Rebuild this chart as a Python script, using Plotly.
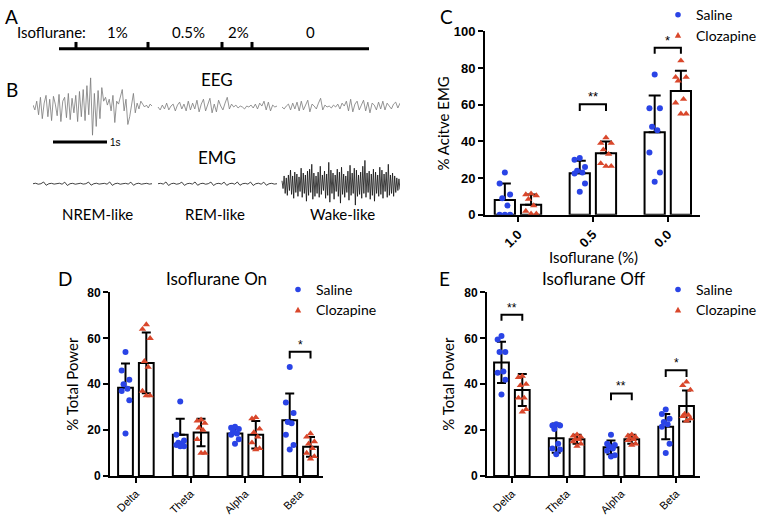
import plotly.graph_objects as go

W, H = 757, 517
def px(x): return x / W
def py(y): return 1 - y / H

# ---------------- data ----------------
groups_c = ["1.0", "0.5", "0.0"]
c_sal_mean = [8.0, 22.7, 45.0]
c_sal_sd = [9.0, 6.8, 20.0]
c_cloz_mean = [5.5, 33.5, 67.5]
c_cloz_sd = [5.5, 6.5, 11.0]
c_sal_pts = [[23, 17, 11, 9, 5, 0, 0, 0],
             [31, 30, 26, 24, 23, 22.5, 17, 12.5],
             [76.5, 58, 58, 48, 46, 34, 23, 18]]
c_cloz_pts = [[11.5, 11, 10.5, 8.5, 5, 2, 0.5, 0.5],
              [42, 39, 39, 35.5, 33, 28, 26.5, 26.5],
              [84, 75, 75, 73, 63, 61, 55, 55]]
c_sig = [(1, 60.3, 56.6, "**"), (2, 91.0, 87.8, "*")]
c_yticks = [0, 20, 40, 60, 80, 100]

bands = ["Delta", "Theta", "Alpha", "Beta"]
de_yticks = [0, 20, 40, 60, 80]
d_sal_mean = [38.5, 18.0, 18.5, 24.3]
d_sal_sd = [10.5, 7.0, 2.5, 11.7]
d_cloz_mean = [49.3, 19.0, 18.0, 12.7]
d_cloz_sd = [13.2, 6.0, 6.0, 4.3]
d_sal_pts = [[54, 46, 42, 40, 38, 37, 33, 18.5],
             [32.5, 18, 15.5, 14.5, 14, 13.5, 13, 13],
             [21.5, 21, 20.5, 19.5, 18.5, 18, 16, 14],
             [47.5, 32, 27.5, 23.5, 23, 18, 13.5, 11.5]]
d_cloz_pts = [[66, 64, 60, 50, 47.5, 37, 35, 35],
              [24.5, 24, 23, 21, 20, 16, 10, 10],
              [25.5, 25, 20.5, 19, 17, 14.5, 12, 11.5],
              [18.5, 17, 15, 14, 12, 10, 8.5, 7.5]]
d_sig = [(3, 54.2, 51.2, "*")]

e_sal_mean = [49.5, 16.5, 12.5, 21.5]
e_sal_sd = [9.0, 6.4, 3.0, 5.5]
e_cloz_mean = [37.5, 16.0, 16.0, 30.5]
e_cloz_sd = [7.0, 2.0, 2.0, 6.8]
e_sal_pts = [[61, 59.5, 54, 54, 45.5, 45, 42, 35.5],
             [22.5, 22, 22, 20.5, 14, 12, 11.5, 9.5],
             [18, 14, 13.5, 13, 12, 11, 9, 8.5],
             [29, 27, 25, 23.5, 22.5, 21.5, 14, 10]]
e_cloz_pts = [[43.5, 43, 40, 39.5, 34, 34, 29, 28],
              [18, 17.5, 17, 16, 16, 15, 14, 13],
              [18, 17.5, 17, 16.5, 16, 15.5, 14, 13.5],
              [41, 39.5, 37.5, 27, 26.5, 26, 25, 24]]
e_sig = [(0, 70.3, 67.7, "**"), (2, 36.0, 33.0, "**"), (3, 46.1, 43.2, "*")]

timeline_labels = ["1%", "0.5%", "2%", "0"]
stage_labels = ["NREM-like", "REM-like", "Wake-like"]

eeg_nrem = [2, -3, 6, -8, 10, -12, 4, 12, -10, 8, -14, 11, 3, -9, 13, -15, 6, 10, -11, 14,
            -13, 9, -6, 12, -15, 16, -10, 18, -14, 22, -8, 30, -29, 14, -20, 17, -12, 20, 6, 10,
            2, 8, -4, 12, -16, 6, 3, 10, 18, -4, 8, -18, -10, 2, 14, -6, 4, -2, 6, 3,
            0, 2, -1, 3, 1]
eeg_rem = [0, -3, 2, -2, 4, -3, 1, 3, -4, 2, 5, -2, 3, -4, 6, -3, 4, -2, 7, -5,
           3, 8, -4, 2, 9, -6, 3, -5, 7, 1, -3, 4, 10, -2, 3, 0, 2, -1, 1, 0,
           -2, 1, 0, 2, -1, 3, -2, 4, 1, 6, -3, 5, -4, 2, 0, 1]
eeg_wake = [0, -2, 1, 3, -3, 4, -2, 5, -4, 6, -3, 2, 7, -5, 3, 1, -2, 4, 9, -3,
            2, 0, 1, -1, 2, 0, 3, -2, 4, 1, 6, -4, 8, -5, 3, 6, -3, 2, 7, -4,
            5, -6, 4, 2, -3, 5, -2, 6, -3, 4, 1, -2, 3, 5, -1, 4]
emg_nrem = [0, 0.5, -0.5, 0, 1.8, -1.6, 0, 0.4, -0.4, 0, 0.5, -0.5, 1.6, -1.8, 0, 0.4, -0.5, 0, 0.5, -0.4,
            0, 1.7, -1.5, 0, 0.5, -0.4, 0, 0.4, -0.5, 1.8, -1.7, 0, 0.5, -0.5, 0, 0.4, -0.4, 1.6, -1.6, 0,
            0.5, -0.5, 0, 0.4, -0.4, 0]
emg_rem = [0, 0.4, -0.4, 1.8, -1.8, 0, 0.5, -0.5, 0, 1.6, -1.7, 0, 0.4, -0.4, 1.8, -1.6, 0, 0.5, -0.5, 0,
           1.7, -1.8, 0, 0.4, -0.4, 1.6, -1.7, 0, 0.5, -0.5, 1.8, -1.6, 0, 0.4, -0.4, 1.7, -1.8, 0, 0.5, -0.5,
           1.6, -1.6, 0, 0.4, -0.4, 0]
emg_wake = [3, -5, 8, -10, 6, -12, 9, -7, 14, -11, 8, -15, 12, -9, 10, -13, 7, -8, 16, -14,
            11, -10, 9, -18, 13, -12, 15, -9, 20, -16, 11, -13, 8, -10, 12, -14, 18, -11, 9, -7,
            13, -15, 10, -12, 22, -19, 14, -10, 11, -16, 9, -8, 15, -13, 12, -20, 17, -11, 10, -14,
            8, -9, 13, -17, 19, -12, 11, -10, 16, -22, 14, -13, 9, -11, 12, -15, 18, -10, 24, -14,
            11, -9, 13, -16, 10, -12, 15, -18, 12, -10, 9, -13, 17, -11, 14, -15, 10, -8, 12, -14,
            20, -12, 9, -10, 11, -13, 8, -9, 6, -7, 5, -6]

# ---------------- style ----------------
BLUE = "#2a44e6"
RED = "#d9472b"
TXT = "Lato"
NUM = "Liberation Sans"
JIT = [0.0, -0.07, 0.07, -0.035, 0.035, -0.07, 0.07, 0.0]

fig = go.Figure()
annotations = []
shapes = []

def text(x, y, s, size, xanchor="center", yanchor="middle", family=TXT, angle=0, color="black"):
    annotations.append(dict(x=px(x), y=py(y), xref="paper", yref="paper", text=s,
                            showarrow=False, xanchor=xanchor, yanchor=yanchor,
                            textangle=angle, font=dict(family=family, size=size, color=color)))

def bar_panel(ax, means_s, sd_s, pts_s, means_c, sd_c, pts_c, sig, off, bw, capw,
              sal_minus, cloz_minus, star_size):
    xa = "x" if ax == 1 else f"x{ax}"
    ya = "y" if ax == 1 else f"y{ax}"
    n = len(means_s)
    for means, sds, pts, o, minus, color, sym in [
        (means_s, sd_s, pts_s, -off, sal_minus, BLUE, "circle"),
        (means_c, sd_c, pts_c, off, cloz_minus, RED, "triangle-up")]:
        fig.add_trace(go.Bar(
            x=[i + o for i in range(n)], y=means, width=bw,
            marker=dict(color="white", line=dict(color="black", width=2)),
            error_y=dict(type="data", array=sds,
                         arrayminus=(sds if minus else [0] * n), symmetric=False,
                         color="black", thickness=2, width=capw),
            xaxis=xa, yaxis=ya, showlegend=False, hoverinfo="skip"))
        xs, ys = [], []
        for i, grp in enumerate(pts):
            for k, v in enumerate(grp):
                xs.append(i + o + JIT[k % len(JIT)])
                ys.append(v)
        fig.add_trace(go.Scatter(
            x=xs, y=ys, mode="markers",
            marker=dict(symbol=sym, size=6 if sym == "circle" else 6.5, color=color,
                        line=dict(width=0)),
            xaxis=xa, yaxis=ya, showlegend=False, hoverinfo="skip"))
    for g, top, leg, lab in sig:
        x0, x1 = g - off, g + off
        shapes.append(dict(type="path", xref=xa, yref=ya,
                           path=f"M {x0},{leg} L {x0},{top} L {x1},{top} L {x1},{leg}",
                           line=dict(color="black", width=2)))
        annotations.append(dict(x=g, y=top, xref=xa, yref=ya, text=lab, showarrow=False,
                                yanchor="bottom", yshift=-2,
                                font=dict(family=NUM, size=star_size, color="black")))

bar_panel(1, c_sal_mean, c_sal_sd, c_sal_pts, c_cloz_mean, c_cloz_sd, c_cloz_pts, c_sig,
          0.175, 0.27, 6, False, False, 13)
bar_panel(2, d_sal_mean, d_sal_sd, d_sal_pts, d_cloz_mean, d_cloz_sd, d_cloz_pts, d_sig,
          0.19, 0.27, 4.5, False, True, 12)
bar_panel(3, e_sal_mean, e_sal_sd, e_sal_pts, e_cloz_mean, e_cloz_sd, e_cloz_pts, e_sig,
          0.19, 0.27, 4.5, True, True, 12)

# ---- EEG / EMG traces ----
seg_x = [(0, 119), (125, 244), (249, 367)]
for arr, (a, b) in zip([eeg_nrem, eeg_rem, eeg_wake], seg_x):
    n = len(arr)
    fig.add_trace(go.Scatter(x=[a + (b - a) * k / (n - 1) for k in range(n)], y=arr,
                             mode="lines", line=dict(color="#7a7a7a", width=0.8),
                             xaxis="x4", yaxis="y4", showlegend=False, hoverinfo="skip"))
for arr, (a, b) in zip([emg_nrem, emg_rem, emg_wake], seg_x):
    n = len(arr)
    fig.add_trace(go.Scatter(x=[a + (b - a) * k / (n - 1) for k in range(n)], y=arr,
                             mode="lines", line=dict(color="#111111", width=0.8),
                             xaxis="x5", yaxis="y5", showlegend=False, hoverinfo="skip"))

def bar_axes(dom_x, dom_y, rng_x, rng_y, yticks, xtext, xfont, yfont):
    xa = dict(domain=dom_x, range=rng_x, tickvals=list(range(len(xtext))),
              ticktext=xtext, tickangle=-45, showline=True, linewidth=2,
              linecolor="black", ticks="outside", ticklen=5, tickwidth=2,
              tickcolor="black", showgrid=False, zeroline=False, tickfont=xfont,
              fixedrange=True)
    ya = dict(domain=dom_y, range=rng_y, tickvals=yticks,
              ticktext=[f"<b>{v}</b>" for v in yticks], showline=True, linewidth=2,
              linecolor="black", ticks="outside", ticklen=5, tickwidth=2,
              tickcolor="black", showgrid=False, zeroline=False,
              tickfont=yfont, fixedrange=True)
    return xa, ya

xc, yc = bar_axes([px(485), px(700)], [py(214), py(25)], [-0.44, 2.43], [0, 100],
                  c_yticks, [f"<b>{g}</b>" for g in groups_c],
                  dict(family=NUM, size=13, color="black"),
                  dict(family=NUM, size=13, color="black"))
xd, yd = bar_axes([px(110), px(323)], [py(483), py(294)], [-0.473, 3.418], [0, 80],
                  de_yticks, bands, dict(family=NUM, size=11, color="black"),
                  dict(family=NUM, size=12, color="black"))
xe, ye = bar_axes([px(487), px(700)], [py(483), py(294)], [-0.4545, 3.436], [0, 80],
                  de_yticks, bands, dict(family=NUM, size=11, color="black"),
                  dict(family=NUM, size=12, color="black"))

hidden = dict(visible=False, showgrid=False, zeroline=False, fixedrange=True)

fig.update_layout(
    width=W, height=H, margin=dict(l=0, r=0, t=0, b=0),
    paper_bgcolor="white", plot_bgcolor="rgba(0,0,0,0)",
    barmode="overlay", showlegend=False,
    xaxis=xc, yaxis=yc,
    xaxis2=dict(xd, anchor="y2"), yaxis2=dict(yd, anchor="x2"),
    xaxis3=dict(xe, anchor="y3"), yaxis3=dict(ye, anchor="x3"),
    xaxis4=dict(hidden, domain=[px(33), px(400)], range=[0, 367], anchor="y4"),
    yaxis4=dict(hidden, domain=[py(140), py(66)], range=[-37, 37], anchor="x4"),
    xaxis5=dict(hidden, domain=[px(33), px(400)], range=[0, 367], anchor="y5"),
    yaxis5=dict(hidden, domain=[py(207), py(157)], range=[-25, 25], anchor="x5"),
)

# panel letters
text(3, 10, "A", 19, "left")
text(4, 85, "B", 19, "left")
text(438, 10, "C", 19, "left")
text(56, 280, "D", 19, "left")
text(437, 280, "E", 19, "left")

# panel A timeline
text(15, 26, "Isoflurane:", 15, "left")
for lab, xc_ in zip(timeline_labels, [117, 188, 238, 310]):
    text(xc_, 26, lab, 15)
shapes.append(dict(type="line", xref="paper", yref="paper", x0=px(59), x1=px(369),
                   y0=py(43), y1=py(43), line=dict(color="black", width=3)))
for tx in [76, 148, 222, 252]:
    shapes.append(dict(type="line", xref="paper", yref="paper", x0=px(tx), x1=px(tx),
                       y0=py(43), y1=py(36), line=dict(color="black", width=3)))

# panel B labels
text(217, 75, "EEG", 17)
text(217, 155, "EMG", 17)
for lab, xc_ in zip(stage_labels, [97, 215, 342]):
    text(xc_, 213, lab, 15)
shapes.append(dict(type="line", xref="paper", yref="paper", x0=px(53), x1=px(107),
                   y0=py(139), y1=py(139), line=dict(color="black", width=3)))
text(108, 140, "1s", 10, "left", family=NUM)

# titles / axis titles
text(593, 257, "Isoflurane (%)", 15)
text(443, 120, "% Acitve EMG", 15, angle=-90)
text(72, 388, "% Total Power", 15, angle=-90)
text(448, 388, "% Total Power", 15, angle=-90)
text(217, 280, "Isoflurane On", 17)
text(594, 280, "Isoflurane Off", 17)

# legends
def legend(xm, ys):
    shapes.append(dict(type="circle", xref="paper", yref="paper",
                       x0=px(xm - 2.8), x1=px(xm + 2.8), y0=py(ys + 2.8), y1=py(ys - 2.8),
                       fillcolor=BLUE, line=dict(width=0)))
    y2 = ys + 21
    shapes.append(dict(type="path", xref="paper", yref="paper",
                       path=f"M {px(xm-3.2)},{py(y2+2.6)} L {px(xm+3.2)},{py(y2+2.6)} L {px(xm)},{py(y2-3.2)} Z",
                       fillcolor=RED, line=dict(width=0)))
    text(xm + 16, ys, "Saline", 14, "left")
    text(xm + 16, y2, "Clozapine", 14, "left")

legend(678, 8)
legend(298, 291)
legend(678, 291)

fig.update_layout(annotations=annotations, shapes=shapes)
fig.write_html("out.html", config={"displayModeBar": False},
               post_script="document.body.style.margin='0';document.body.style.overflow='hidden';")
